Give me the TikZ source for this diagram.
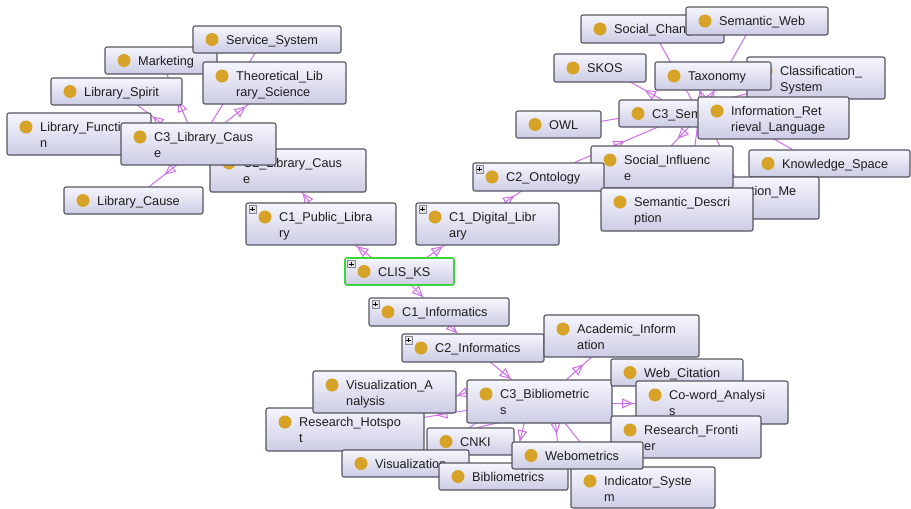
\documentclass[tikz,border=0pt]{standalone}
\usepackage{fontspec}
\setmainfont{Liberation Sans}
\usetikzlibrary{arrows.meta,decorations.markings,calc}
\pgfdeclarelayer{background}
\pgfsetlayers{background,main}
\definecolor{edgec}{RGB}{205,110,235}
\definecolor{boxtop}{RGB}{246,246,253}
\definecolor{boxbot}{RGB}{204,204,229}
\definecolor{boxdraw}{RGB}{85,85,95}
\definecolor{dotc}{RGB}{214,162,40}
\definecolor{selc}{RGB}{60,212,60}
\definecolor{txtc}{RGB}{30,30,30}
\definecolor{iconfill}{RGB}{225,225,232}
\tikzset{
  box/.style={draw=boxdraw, line width=1.1pt, rounded corners=2pt, top color=boxtop, bottom color=boxbot, inner sep=0pt},
  selbox/.style={draw=selc, line width=1.6pt},
  lbl/.style={anchor=base west, inner sep=0pt, font=\fontsize{12.7}{15}\selectfont, text=txtc},
  edge/.style={draw=edgec, line width=1pt},
  hd/.style={postaction={decorate, decoration={markings, mark=at position #1 with {\arrow[edgec, line width=1pt]{Triangle[open, length=11pt, width=10pt]}}}}},
}
\newcommand\onebox[7][]{%
  \node[box,#1, minimum width={#5-#3}, minimum height={#6-#4}] (#2) at ({(#3+#5)/2},{(#4+#6)/2}) {};
  \fill[dotc] ({#3+19},{(#4+#6)/2}) circle (6.5pt);
  \node[lbl] (#2-t) at ({#3+33},{(#4+#6)/2+4.5}) {#7};
}
\newcommand\twobox[7]{%
  \node[box, minimum width={#4-#2}, minimum height={#5-#3}] (#1) at ({(#2+#4)/2},{(#3+#5)/2}) {};
  \fill[dotc] ({#2+19},{#3+14}) circle (6.5pt);
  \node[lbl] (#1-t1) at ({#2+33},{#3+18.5}) {#6};
  \node[lbl] (#1-t2) at ({#2+33},{#3+34}) {#7};
}
\newcommand\plusicon[1]{%
  \draw[draw=boxdraw!70, fill=iconfill, line width=0.6pt] ($(#1.north west)+(3.5,3)$) rectangle ++(7.5,7.5);
  \draw[black, line width=0.8pt] ($(#1.north west)+(5,6.75)$) -- ++(4.5,0);
  \draw[black, line width=0.8pt] ($(#1.north west)+(7.25,4.5)$) -- ++(0,4.5);
}
\begin{document}
\begin{tikzpicture}[x=1pt,y=-1pt]
\begin{pgfonlayer}{background}
\fill[white] (0,0) rectangle (911,509);
\end{pgfonlayer}
\useasboundingbox (0,0) rectangle (911,509);
% ---- top left
\onebox{MKT}{105}{47}{217}{74}{Marketing}
\onebox{SVC}{193}{26}{341}{53}{Service\_System}
\twobox{TLS}{203}{62}{346}{104}{Theoretical\_Lib}{rary\_Science}
\onebox{LSP}{51}{78}{182}{105}{Library\_Spirit}
\twobox{LFN}{7}{113}{151}{155}{Library\_Functio}{n}
\twobox{C2LC}{210}{149}{366}{192}{C2\_Library\_Caus}{e}
\twobox{C3LC}{121}{123}{276}{165}{C3\_Library\_Caus}{e}
\onebox{LCA}{64}{187}{203}{214}{Library\_Cause}
% ---- middle
\twobox{C1PL}{246}{203}{396}{245}{C1\_Public\_Libra}{ry}
\plusicon{C1PL}
\twobox{C1DL}{416}{203}{559}{245}{C1\_Digital\_Libr}{ary}
\plusicon{C1DL}
\onebox[selbox]{CLIS}{345}{258}{454}{285}{CLIS\_KS}
\plusicon{CLIS}
\onebox{C1IN}{369}{298}{509}{326}{C1\_Informatics}
\plusicon{C1IN}
\onebox{C2IN}{402}{334}{544}{362}{C2\_Informatics}
\plusicon{C2IN}
\twobox{ACA}{544}{315}{699}{357}{Academic\_Inform}{ation}
% ---- top right
\onebox{SCH}{581}{15}{724}{43}{Social\_Change}
\onebox{SWB}{686}{7}{828}{35}{Semantic\_Web}
\onebox{SKOS}{554}{54}{646}{82}{SKOS}
\twobox{CLS}{747}{57}{885}{99}{Classification\_}{System}
\onebox{TAX}{655}{62}{771}{90}{Taxonomy}
\onebox{C3SM}{619}{100}{760}{127}{C3\_Sem}
\twobox{IRL}{698}{97}{849}{139}{Information\_Ret}{rieval\_Language}
\onebox{OWL}{516}{111}{601}{138}{OWL}
\onebox{KSP}{749}{150}{910}{177}{Knowledge\_Space}
\twobox{CON}{667}{177}{819}{219}{Construction\_Me}{}
\twobox{SIN}{591}{146}{733}{188}{Social\_Influenc}{e}
\onebox{C2ON}{473}{163}{604}{191}{C2\_Ontology}
\plusicon{C2ON}
\twobox{SMD}{601}{188}{753}{231}{Semantic\_Descri}{ption}
% ---- bottom
\twobox{RHS}{266}{408}{424}{451}{Research\_Hotspo}{t}
\twobox{VAN}{313}{371}{456}{413}{Visualization\_A}{nalysis}
\twobox{C3BM}{467}{380}{612}{423}{C3\_Bibliometric}{s}
\onebox{WCT}{611}{359}{743}{386}{Web\_Citation}
\twobox{CWA}{636}{381}{788}{424}{Co-word\_Analysi}{s}
\twobox{RFR}{611}{416}{761}{458}{Research\_Fronti}{er}
\onebox{CNKI}{427}{428}{514}{455}{CNKI}
\onebox{VIS}{342}{450}{469}{477}{Visualization}
\onebox{BIB}{439}{463}{568}{490}{Bibliometrics}
\twobox{IND}{571}{467}{715}{508}{Indicator\_Syste}{m}
\onebox{WEB}{512}{442}{643}{469}{Webometrics}
% ---- connectors
\begin{pgfonlayer}{background}
\draw[edge,hd=0.33] ($(C3LC.north west)+(40,0)$) -- ($(LSP.north west)+(86,27)$);
\draw[edge,hd=0.44] ($(C3LC.north west)+(67,0)$) -- ($(MKT.north west)+(62,27)$);
\draw[edge] ($(C3LC.north west)+(91,0)$) -- ($(SVC.north west)+(63,27)$);
\draw[edge,hd=0.84] ($(C3LC.north west)+(105,0)$) -- ($(TLS.north west)+(47,42)$);
\draw[edge] (C3LC) -- (LFN);
\draw[edge,hd=0.46] ($(C3LC.north west)+(57,42)$) -- ($(LCA.north west)+(86,0)$);
\draw[edge] (C2LC) -- (C3LC);
\draw[edge,hd=0.85] ($(C1PL.north west)+(64,0)$) -- ($(C2LC.north west)+(92,43)$);
\draw[edge,hd=0.85] ($(CLIS.north west)+(27,0)$) -- ($(C1PL.north west)+(109,42)$);
\draw[edge,hd=0.85] ($(CLIS.north west)+(83,0)$) -- ($(C1DL.north west)+(30,42)$);
\draw[edge,hd=0.97] ($(CLIS.north west)+(66,27)$) -- ($(C1IN.north west)+(55,0)$);
\draw[edge,hd=0.97] ($(C1IN.north west)+(81,28)$) -- ($(C2IN.north west)+(56,0)$);
\draw[edge,hd=0.97] ($(C2IN.north west)+(88,28)$) -- ($(C3BM.north west)+(45,0)$);
\draw[edge,hd=0.54] ($(C1DL.north west)+(89,0)$) -- ($(C2ON.north west)+(50,28)$);
\draw[edge,hd=0.59] ($(C2ON.north west)+(102,0)$) -- ($(C3SM.north west)+(41,27)$);
\draw[edge,hd=0.52] ($(C3SM.north west)+(43,0)$) -- ($(SKOS.north west)+(76,28)$);
\draw[edge] ($(C3SM.north west)+(0,19)$) -- ($(OWL.north west)+(85,11)$);
\draw[edge] ($(C3SM.north west)+(73,0)$) -- ($(SCH.north west)+(79,28)$);
\draw[edge,hd=0.14] ($(C3SM.north west)+(91,0)$) -- ($(SWB.north west)+(61,28)$);
\draw[edge,hd=0.95] ($(C3SM.north west)+(84,0)$) -- ($(TAX.north west)+(45,28)$);
\draw[edge] ($(C3SM.north west)+(85,5)$) -- ($(CLS.north west)+(10,35)$);
\draw[edge] (C3SM) -- (IRL);
\draw[edge] ($(C3SM.north west)+(111,15)$) -- ($(KSP.north west)+(44,0)$);
\draw[edge,hd=0.65] ($(C3SM.north west)+(71,27)$) -- ($(SIN.north west)+(81,0)$);
\draw[edge] ($(C3SM.north west)+(79,27)$) -- ($(SMD.north west)+(89,0)$);
\draw[edge] ($(C3SM.north west)+(92,27)$) -- ($(CON.north west)+(68,0)$);
\draw[edge,hd=0.65] ($(C3BM.north west)+(100,0)$) -- ($(ACA.north west)+(49,42)$);
\draw[edge] (C3BM) -- (WCT);
\draw[edge,hd=0.9] ($(C3BM.north west)+(145,24)$) -- ($(CWA.north west)+(0,23)$);
\draw[edge] (C3BM) -- (RFR);
\draw[edge,hd=0.6] ($(C3BM.north west)+(89,43)$) -- ($(WEB.north west)+(46,0)$);
\draw[edge] ($(C3BM.north west)+(98,43)$) -- ($(IND.north west)+(29,0)$);
\draw[edge,hd=0.47] ($(C3BM.north west)+(58,43)$) -- ($(BIB.north west)+(76,0)$);
\draw[edge] ($(C3BM.north west)+(33,43)$) -- ($(CNKI.north west)+(51,0)$);
\draw[edge,hd=0.9] ($(C3BM.north west)+(0,13)$) -- ($(VAN.north west)+(143,26)$);
\draw[edge,hd=0.7] ($(C3BM.north west)+(0,31)$) -- ($(RHS.north west)+(158,10)$);
\draw[edge] ($(C3BM.north west)+(10,43)$) -- ($(VIS.north west)+(100,0)$);
\end{pgfonlayer}
\end{tikzpicture}
\end{document}
